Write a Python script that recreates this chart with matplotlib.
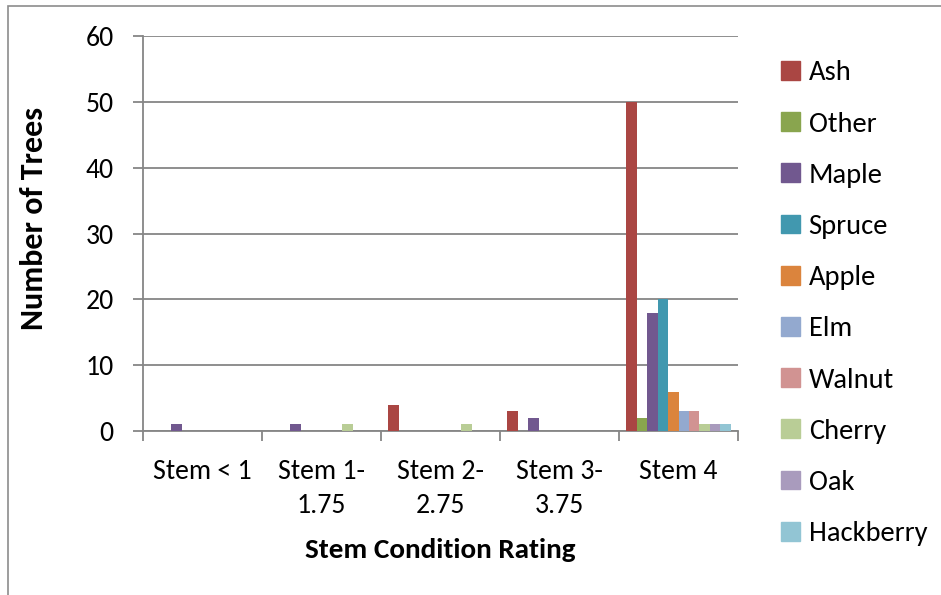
import matplotlib
matplotlib.use("Agg")
import matplotlib.pyplot as plt
from matplotlib import font_manager
from matplotlib.patches import Rectangle
import numpy as np

categories = ["Stem < 1", "Stem 1-\n1.75", "Stem 2-\n2.75", "Stem 3-\n3.75", "Stem 4"]
series_names = ["Ash", "Other", "Maple", "Spruce", "Apple", "Elm", "Walnut", "Cherry", "Oak", "Hackberry"]
ash = [0, 0, 4, 3, 50]
other = [0, 0, 0, 0, 2]
maple = [1, 1, 0, 2, 18]
spruce = [0, 0, 0, 0, 20]
apple = [0, 0, 0, 0, 6]
elm = [0, 0, 0, 0, 3]
walnut = [0, 0, 0, 0, 3]
cherry = [0, 1, 1, 0, 1]
oak = [0, 0, 0, 0, 1]
hackberry = [0, 0, 0, 0, 1]
series_values = [ash, other, maple, spruce, apple, elm, walnut, cherry, oak, hackberry]
colors = ["#AA4643", "#89A54E", "#71588F", "#4198AF", "#DB843D",
          "#93A9CF", "#D19392", "#B9CD96", "#A99BBD", "#92C5D4"]
y_ticks = [0, 10, 20, 30, 40, 50, 60]

available = {f.name for f in font_manager.fontManager.ttflist}
font = "DejaVu Sans"
for cand in ["Carlito", "Liberation Sans Narrow", "Lato", "Open Sans"]:
    if cand in available:
        font = cand
        break
plt.rcParams["font.family"] = [font, "DejaVu Sans"]

W, H = 941, 595
fig = plt.figure(figsize=(W / 100, H / 100), dpi=100)
fig.patches.append(Rectangle((8 / W, -0.1), 1.2, 1 - 6 / H + 0.1, transform=fig.transFigure,
                             fill=False, edgecolor="#8c8c8c", linewidth=1.2))

ax = fig.add_axes([143 / W, 1 - 431 / H, (738 - 143) / W, (431 - 36) / H])
n = len(series_names)
bw = 0.088
x = np.arange(len(categories))
for i, (name, vals, c) in enumerate(zip(series_names, series_values, colors)):
    ax.bar(x + (i - (n - 1) / 2) * bw, vals, width=bw, color=c, label=name, zorder=3)

ax.set_xlim(-0.5, len(categories) - 0.5)
ax.set_ylim(0, 60)
ax.set_yticks(y_ticks)
ax.set_yticklabels([str(t) for t in y_ticks], fontsize=20)
ax.yaxis.grid(True, color="#868686", linewidth=1.3, zorder=0)
ax.set_axisbelow(True)
ax.set_xticks(x)
ax.set_xticklabels(categories, fontsize=20, linespacing=1.45)
ax.set_xticks(np.arange(len(categories) + 1) - 0.5, minor=True)
ax.tick_params(axis="x", which="major", length=0, pad=20)
ax.tick_params(axis="x", which="minor", length=7, width=1.3, color="#868686", direction="out")
ax.tick_params(axis="y", length=7, width=1.3, color="#868686", direction="out", pad=14)
for s in ["top", "right"]:
    ax.spines[s].set_visible(False)
for s in ["left", "bottom"]:
    ax.spines[s].set_color("#868686")
    ax.spines[s].set_linewidth(1.3)

fig.text(34 / W, 1 - 218 / H, "Number of Trees", rotation=90, fontsize=23, fontweight="bold",
         ha="center", va="center")
fig.text(440 / W, 1 - 550 / H, "Stem Condition Rating", fontsize=21, fontweight="bold",
         ha="center", va="center")

handles = [Rectangle((0, 0), 1, 1, color=c) for c in colors]
leg = fig.legend(handles, series_names, loc="upper left", bbox_to_anchor=(770 / W, 1 - 49 / H),
                 frameon=False, fontsize=20.5, handlelength=0.64, handleheight=0.64,
                 handletextpad=0.32, labelspacing=0.92, borderaxespad=0)

fig.savefig("out.png", dpi=100)
